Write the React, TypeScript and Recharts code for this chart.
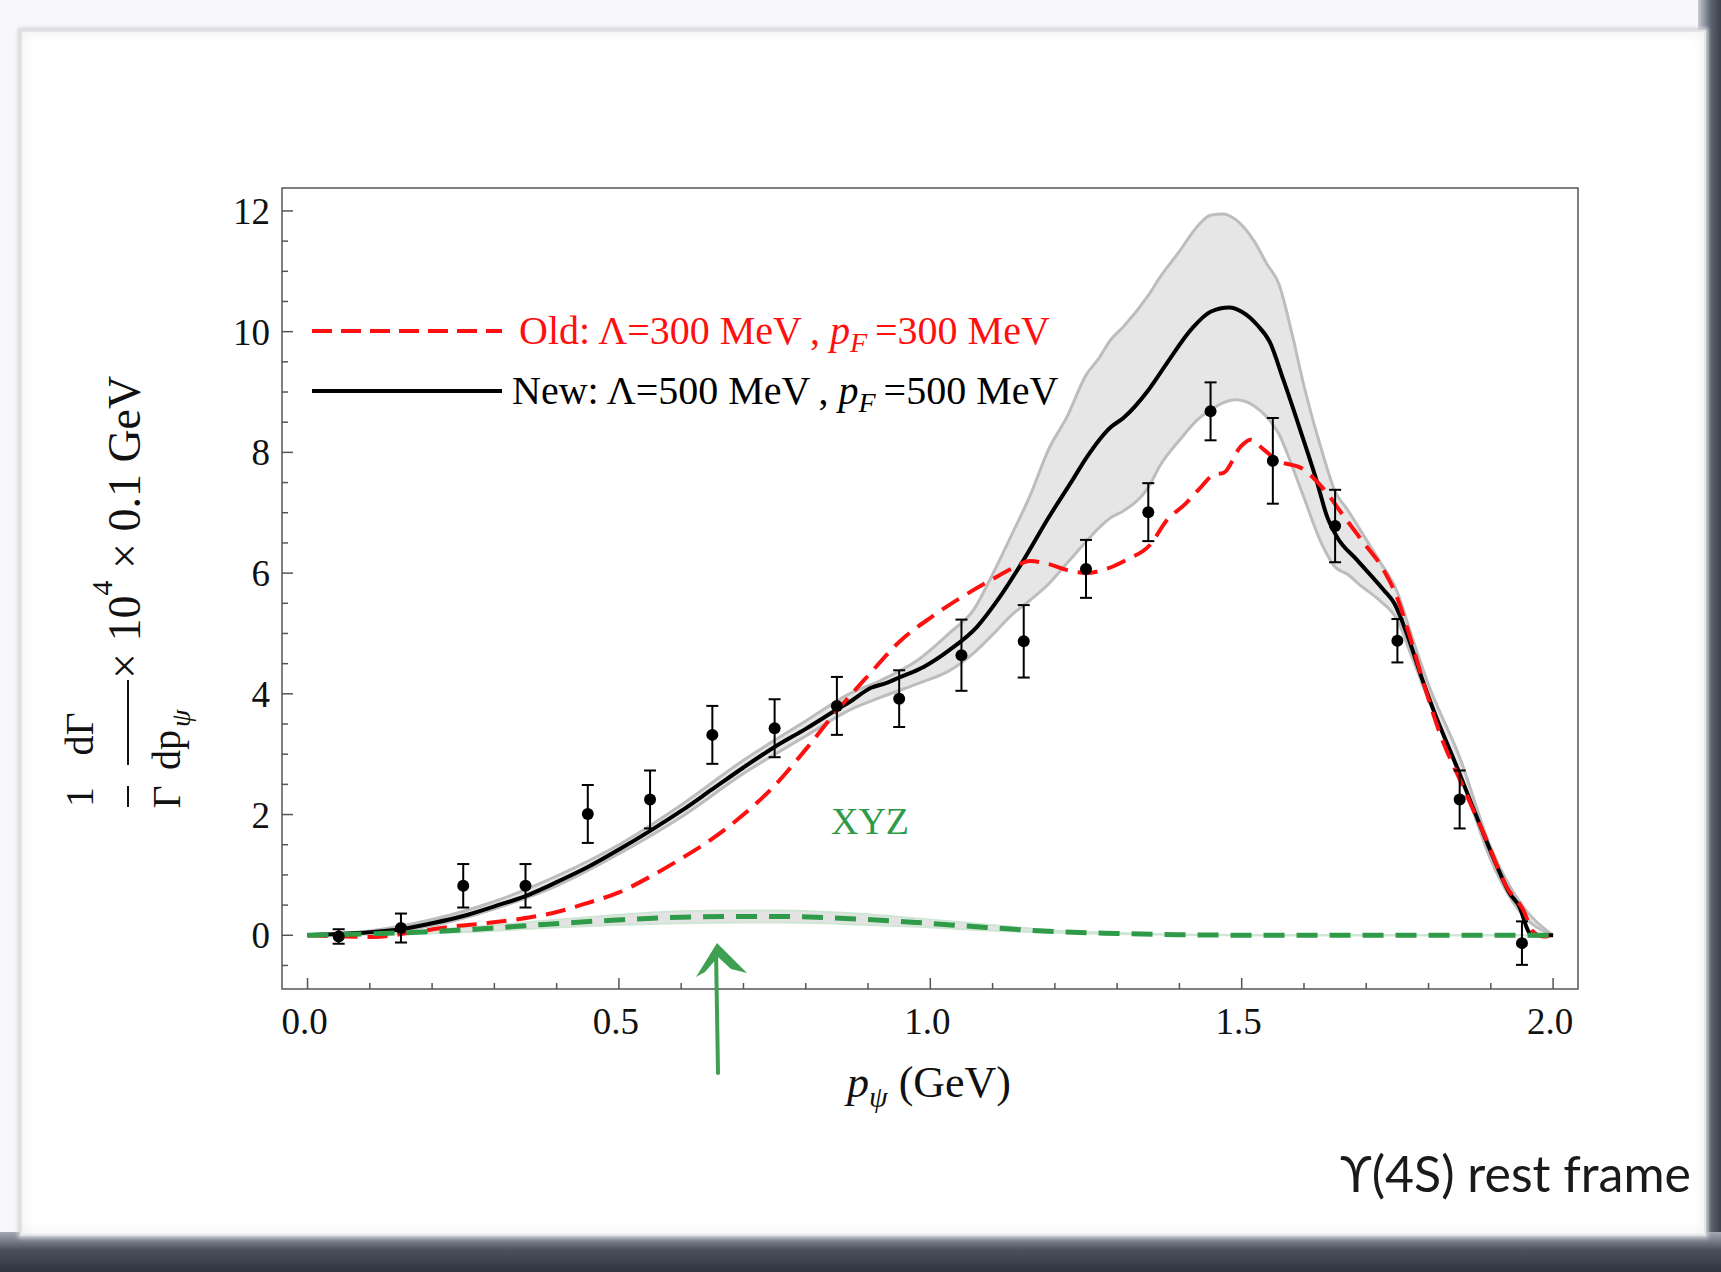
import React from "react";
import { ComposedChart, Line, Area, Scatter, ErrorBar, XAxis, YAxis, ReferenceArea } from "recharts";

const SERIF = "'Liberation Serif', 'Times New Roman', serif";
const SANS = "Lato, 'Open Sans', 'DejaVu Sans', sans-serif";

// measured spectrum, 0.1 GeV bins
const binX = [0.05, 0.15, 0.25, 0.35, 0.45, 0.55, 0.65, 0.75, 0.85, 0.95, 1.05, 1.15, 1.25, 1.35, 1.45, 1.55, 1.65, 1.75, 1.85, 1.95];
const binY = [-0.02, 0.12, 0.82, 0.82, 2.01, 2.25, 3.32, 3.43, 3.8, 3.92, 4.64, 4.87, 6.07, 7.01, 8.68, 7.86, 6.78, 4.88, 2.25, -0.13];
const binErr = [0.12, 0.24, 0.36, 0.36, 0.48, 0.48, 0.48, 0.48, 0.48, 0.47, 0.59, 0.6, 0.48, 0.48, 0.48, 0.71, 0.6, 0.36, 0.48, 0.36];

// new model, central curve
const newX = [0, 0.05, 0.1, 0.15, 0.2, 0.25, 0.3, 0.35, 0.4, 0.45, 0.5, 0.55, 0.6, 0.65, 0.7, 0.75, 0.8, 0.85, 0.871, 0.905, 0.93, 0.95, 0.99, 1.03, 1.075, 1.11, 1.15, 1.19, 1.23, 1.25, 1.29, 1.31, 1.35, 1.38, 1.42, 1.45, 1.48, 1.5, 1.525, 1.545, 1.567, 1.594, 1.62, 1.637, 1.653, 1.685, 1.728, 1.745, 1.765, 1.792, 1.808, 1.845, 1.877, 1.91, 1.93, 1.947, 1.958, 1.965, 2.0];
const newY = [0, 0.02, 0.05, 0.1, 0.2, 0.32, 0.48, 0.65, 0.88, 1.13, 1.42, 1.73, 2.06, 2.42, 2.78, 3.12, 3.42, 3.74, 3.87, 4.1, 4.18, 4.27, 4.45, 4.72, 5.11, 5.58, 6.22, 6.92, 7.57, 7.9, 8.42, 8.57, 9.03, 9.48, 10.05, 10.33, 10.4, 10.33, 10.11, 9.83, 9.2, 8.37, 7.54, 6.94, 6.6, 6.22, 5.72, 5.5, 5.0, 4.18, 3.73, 2.8, 1.97, 1.14, 0.7, 0.45, 0.12, 0, 0];

// new model, uncertainty band
const bandX = [0, 0.1, 0.2, 0.3, 0.4, 0.5, 0.6, 0.7, 0.8, 0.87, 0.92, 0.98, 1.03, 1.07, 1.1, 1.13, 1.16, 1.19, 1.22, 1.25, 1.27, 1.29, 1.31, 1.35, 1.37, 1.4, 1.43, 1.45, 1.47, 1.49, 1.52, 1.54, 1.56, 1.58, 1.6, 1.63, 1.65, 1.67, 1.69, 1.72, 1.75, 1.77, 1.8, 1.85, 1.9, 1.95, 2.0];
const bandLo = [0, 0.03, 0.16, 0.44, 0.82, 1.35, 1.96, 2.68, 3.3, 3.73, 3.94, 4.17, 4.38, 4.68, 4.98, 5.3, 5.55, 5.82, 6.17, 6.52, 6.74, 6.92, 7.03, 7.42, 7.8, 8.2, 8.55, 8.7, 8.82, 8.87, 8.77, 8.59, 8.3, 7.8, 7.25, 6.45, 6.1, 5.98, 5.8, 5.56, 5.22, 4.7, 3.9, 2.7, 1.25, 0.35, 0];
const bandHi = [0, 0.07, 0.26, 0.56, 0.98, 1.5, 2.16, 2.9, 3.55, 4.0, 4.22, 4.56, 5.0, 5.4, 5.98, 6.62, 7.28, 8.05, 8.6, 9.28, 9.55, 9.87, 10.08, 10.6, 10.92, 11.33, 11.76, 11.93, 11.95, 11.86, 11.5, 11.13, 10.78, 10.0, 9.1, 7.98, 7.35, 7.05, 6.72, 6.22, 5.68, 5.05, 4.15, 2.95, 1.45, 0.5, 0];

// old model
const oldX = [0, 0.057, 0.105, 0.164, 0.229, 0.287, 0.341, 0.394, 0.448, 0.5, 0.55, 0.6, 0.65, 0.7, 0.75, 0.8, 0.85, 0.9, 0.95, 1.0, 1.05, 1.1, 1.13, 1.16, 1.19, 1.22, 1.25, 1.28, 1.315, 1.353, 1.38, 1.41, 1.435, 1.455, 1.471, 1.498, 1.514, 1.535, 1.557, 1.599, 1.631, 1.664, 1.696, 1.728, 1.749, 1.77, 1.792, 1.818, 1.855, 1.893, 1.925, 1.952, 1.968, 1.984, 2.0];
const oldY = [0, -0.02, -0.03, 0.04, 0.14, 0.2, 0.27, 0.37, 0.53, 0.71, 0.97, 1.27, 1.6, 2.0, 2.48, 3.08, 3.72, 4.3, 4.86, 5.26, 5.6, 5.9, 6.07, 6.2, 6.15, 6.05, 6.0, 6.06, 6.22, 6.47, 6.88, 7.15, 7.43, 7.63, 7.66, 8.09, 8.21, 8.05, 7.87, 7.72, 7.4, 6.94, 6.5, 6.05, 5.61, 4.95, 4.18, 3.35, 2.47, 1.58, 0.81, 0.42, 0.06, -0.02, 0];

// XYZ feed-down contribution
const xyzX = [0, 0.15, 0.27, 0.38, 0.49, 0.6, 0.7, 0.76, 0.88, 0.98, 1.09, 1.2, 1.3, 1.4, 1.52, 2.0];
const xyzY = [0, 0.04, 0.1, 0.18, 0.25, 0.3, 0.31, 0.31, 0.27, 0.21, 0.13, 0.06, 0.03, 0.01, 0, 0];
const xyzLo = [0, 0.02, 0.06, 0.12, 0.17, 0.2, 0.21, 0.21, 0.18, 0.14, 0.08, 0.04, 0.02, 0.01, 0, 0];
const xyzHi = [0, 0.06, 0.14, 0.24, 0.33, 0.4, 0.41, 0.41, 0.36, 0.28, 0.18, 0.08, 0.04, 0.01, 0, 0];

// axes
const xDomain = [-0.041, 2.04];
const yDomain = [-0.89, 12.38];
const xTicks = [0, 0.1, 0.2, 0.3, 0.4, 0.5, 0.6, 0.7, 0.8, 0.9, 1, 1.1, 1.2, 1.3, 1.4, 1.5, 1.6, 1.7, 1.8, 1.9, 2];
const xMajor = [0, 0.5, 1, 1.5, 2];
const xLabels = ["0.0", "0.5", "1.0", "1.5", "2.0"];
const yTicks = [-0.5, 0, 0.5, 1, 1.5, 2, 2.5, 3, 3.5, 4, 4.5, 5, 5.5, 6, 6.5, 7, 7.5, 8, 8.5, 9, 9.5, 10, 10.5, 11, 11.5, 12];
const yMajor = [0, 2, 4, 6, 8, 10, 12];
const yLabels = ["0", "2", "4", "6", "8", "10", "12"];

const bins = binX.map((x, i) => ({ x, y: binY[i], err: binErr[i] }));
const newRows = newX.map((x, i) => ({ x, y: newY[i] }));
const bandRows = bandX.map((x, i) => ({ x, range: [bandLo[i], bandHi[i]] }));
const oldRows = oldX.map((x, i) => ({ x, y: oldY[i] }));
const xyzRows = xyzX.map((x, i) => ({ x, y: xyzY[i] }));
const xyzBandRows = xyzX.map((x, i) => ({ x, range: [xyzLo[i], xyzHi[i]] }));

const findMajor = (list: number[], v: number) => list.findIndex((m) => Math.abs(m - v) < 1e-6);

const XTick = ({ x, y, payload }: any) => {
  const idx = findMajor(xMajor, payload.value);
  const len = idx >= 0 ? 11 : 6;
  return (
    <g>
      <line x1={x} x2={x} y1={y} y2={y - len} stroke="#555" strokeWidth={1.5} />
      {idx >= 0 && (
        <text x={x - 3} y={y + 45} textAnchor="middle" fontSize={37} fill="#111" fontFamily={SERIF}>
          {xLabels[idx]}
        </text>
      )}
    </g>
  );
};

const YTick = ({ x, y, payload }: any) => {
  const idx = findMajor(yMajor, payload.value);
  const len = idx >= 0 ? 11 : 6;
  return (
    <g>
      <line x1={x} x2={x + len} y1={y} y2={y} stroke="#555" strokeWidth={1.5} />
      {idx >= 0 && (
        <text x={x - 12} y={y + 13} textAnchor="end" fontSize={37} fill="#111" fontFamily={SERIF}>
          {yLabels[idx]}
        </text>
      )}
    </g>
  );
};

const DataDot = (p: any) => <circle cx={p.cx} cy={p.cy} r={6} fill="#000" />;

export default function App() {
  return (
    <div style={{ position: "absolute", left: 0, top: 0, width: 1721, height: 1272, background: "#f8f8fa", overflow: "hidden" }}>
      {/* torn paper look */}
      <div style={{ position: "absolute", left: 1698, top: 0, width: 23, height: 1272, background: "linear-gradient(to right, #c9ccd4, #5d6372 55%, #3b404d)" }} />
      <div style={{ position: "absolute", left: 0, top: 1232, width: 1721, height: 40, background: "linear-gradient(to bottom, #a4a9b4, #4a505d 45%, #2f3440)" }} />
      <div
        style={{
          position: "absolute",
          left: 20,
          top: 30,
          width: 1682,
          height: 1202,
          background: "#fff",
          border: "2px solid #e4e4e8",
          boxShadow: "0 0 4px 2px #d2d2d6, inset 0 0 14px rgba(0,0,0,0.07)",
        }}
      />

      <div style={{ position: "absolute", left: 0, top: 0 }}>
        <ComposedChart width={1721} height={1272} margin={{ top: 188, right: 143, bottom: 223, left: 222 }}>
          <XAxis
            type="number"
            dataKey="x"
            domain={xDomain}
            allowDataOverflow
            ticks={xTicks}
            interval={0}
            tick={<XTick />}
            tickLine={false}
            tickSize={0}
            tickMargin={0}
            axisLine={false}
            height={60}
          />
          <YAxis
            type="number"
            domain={yDomain}
            allowDataOverflow
            ticks={yTicks}
            interval={0}
            tick={<YTick />}
            tickLine={false}
            tickSize={0}
            tickMargin={0}
            axisLine={false}
            width={60}
          />
          <ReferenceArea x1={xDomain[0]} x2={xDomain[1]} y1={yDomain[0]} y2={yDomain[1]} fill="none" stroke="#555" strokeWidth={1.5} ifOverflow="visible" />
          <Area data={bandRows} dataKey="range" type="monotone" fill="#e6e6e6" fillOpacity={1} stroke="#bdbdbd" strokeWidth={3} isAnimationActive={false} />
          <Area data={xyzBandRows} dataKey="range" type="monotone" fill="#e3e3e3" fillOpacity={1} stroke="#cfe6d4" strokeWidth={2} isAnimationActive={false} />
          <Line data={newRows} dataKey="y" type="monotone" stroke="#000" strokeWidth={4} dot={false} isAnimationActive={false} />
          <Line data={oldRows} dataKey="y" type="monotone" stroke="#ff1010" strokeWidth={4} strokeDasharray="20 10" dot={false} isAnimationActive={false} />
          <Line data={xyzRows} dataKey="y" type="monotone" stroke="#2f9a48" strokeWidth={5} strokeDasharray="21 12" dot={false} isAnimationActive={false} />
          <Scatter data={bins} dataKey="y" shape={DataDot} isAnimationActive={false}>
            <ErrorBar dataKey="err" direction="y" width={6} stroke="#000" strokeWidth={2} />
          </Scatter>
        </ComposedChart>
      </div>

      <svg width={1721} height={1272} style={{ position: "absolute", left: 0, top: 0, pointerEvents: "none" }}>
        {/* legend */}
        <line x1={312} x2={502} y1={331} y2={331} stroke="#ff1010" strokeWidth={4} strokeDasharray="20 9" />
        <text x={519} y={344} fontSize={40} fill="#ff1010" fontFamily={SERIF}>
          Old:{"\u2009"}Λ=300 MeV{"\u2009"}, <tspan fontStyle="italic">p</tspan>
          <tspan fontStyle="italic" fontSize={28} dy={8}>F</tspan>
          <tspan dy={-8}>{"\u2009"}=300 MeV</tspan>
        </text>
        <line x1={312} x2={502} y1={391} y2={391} stroke="#000" strokeWidth={4} />
        <text x={512} y={404} fontSize={40} fill="#000" fontFamily={SERIF}>
          New:{"\u2009"}Λ=500 MeV{"\u2009"}, <tspan fontStyle="italic">p</tspan>
          <tspan fontStyle="italic" fontSize={28} dy={8}>F</tspan>
          <tspan dy={-8}>{"\u2009"}=500 MeV</tspan>
        </text>

        {/* XYZ tag and arrow */}
        <text x={870} y={834} textAnchor="middle" fontSize={38} fill="#2f9a48" fontFamily={SERIF}>XYZ</text>
        <path d="M718,1073 L716,950" stroke="#3fa052" strokeWidth={4} strokeLinecap="round" fill="none" />
        <polygon points="696,977 717,943 747,973 731,969 718,957 705,972" fill="#3fa052" />

        {/* y axis label */}
        <g transform="translate(128,807) rotate(-90)" fontFamily={SERIF} fill="#111">
          <text x={10} y={-35} fontSize={40} textAnchor="middle">1</text>
          <line x1={0} x2={21} y1={0} y2={0} stroke="#111" strokeWidth={2} />
          <text x={10} y={52} fontSize={40} textAnchor="middle">Γ</text>
          <text x={73} y={-35} fontSize={40} textAnchor="middle">dΓ</text>
          <line x1={42} x2={127} y1={0} y2={0} stroke="#111" strokeWidth={2} />
          <text x={37} y={52} fontSize={40}>
            dp<tspan fontSize={28} fontStyle="italic" dx={3} dy={10}>ψ</tspan>
          </text>
          <text x={128} y={12} fontSize={46}>
            × 10<tspan fontSize={30} dy={-28}>4</tspan>
            <tspan dy={28}> × 0.1 GeV</tspan>
          </text>
        </g>

        {/* x axis label */}
        <text x={929} y={1097} textAnchor="middle" fontSize={44} fill="#111" fontFamily={SERIF}>
          <tspan fontStyle="italic">p</tspan>
          <tspan fontStyle="italic" fontSize={30} dy={10}>ψ</tspan>
          <tspan dy={-10}> (GeV)</tspan>
        </text>

        <text x={1691} y={1192} textAnchor="end" fontSize={50} fill="#1a1a1a" fontFamily={SANS}>
          ϒ(4S) rest frame
        </text>
      </svg>
    </div>
  );
}
